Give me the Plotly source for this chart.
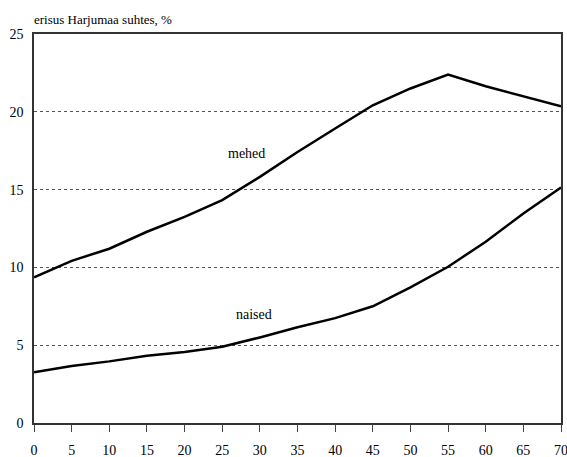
import plotly.graph_objects as go

ages = [0, 5, 10, 15, 20, 25, 30, 35, 40, 45, 50, 55, 60, 65, 70]
mehed = [9.36, 10.42, 11.2, 12.29, 13.25, 14.32, 15.82, 17.42, 18.93, 20.42, 21.5, 22.4, 21.64, 21.0, 20.36]
naised = [3.26, 3.66, 3.96, 4.32, 4.56, 4.9, 5.5, 6.15, 6.74, 7.5, 8.72, 10.04, 11.65, 13.47, 15.14]
y_ticks = [0, 5, 10, 15, 20, 25]
x_ticks = ages
title_text = "erisus Harjumaa suhtes, %"

font_family = "'Liberation Serif', 'Times New Roman', Times, 'DejaVu Serif', serif"
tick_font = dict(family=font_family, size=14, color="black")

fig = go.Figure()
fig.add_trace(go.Scatter(x=ages, y=mehed, mode="lines", line=dict(color="black", width=2.5), name="mehed",
                         showlegend=False, hoverinfo="skip"))
fig.add_trace(go.Scatter(x=ages, y=naised, mode="lines", line=dict(color="black", width=2.5), name="naised",
                         showlegend=False, hoverinfo="skip"))

fig.add_annotation(x=28.2, y=17.3, text="mehed", showarrow=False, font=dict(family=font_family, size=14, color="black"))
fig.add_annotation(x=29.2, y=7.0, text="naised", showarrow=False, font=dict(family=font_family, size=14, color="black"))

fig.update_layout(
    width=567, height=457,
    margin=dict(l=34, r=6, t=34, b=34, autoexpand=False),
    plot_bgcolor="white", paper_bgcolor="white",
    font=dict(family=font_family, size=14, color="black"),
    title=dict(text=title_text, font=dict(family=font_family, size=13, color="black"),
               xref="paper", x=0, xanchor="left", yref="container", y=1 - 19 / 457, yanchor="middle",
               automargin=False),
    xaxis=dict(range=[0, 70], tickvals=x_ticks, ticks="outside", ticklen=7, tickcolor="#444",
               showgrid=False, showline=True, linecolor="#333", linewidth=1.5, mirror=True,
               zeroline=False, automargin=False, ticklabeloverflow="allow", ticklabelstandoff=6,
               tickfont=tick_font),
    yaxis=dict(range=[0, 25], tickvals=y_ticks, ticks="", showgrid=True, gridcolor="#555",
               griddash="dot", gridwidth=1, showline=True, linecolor="#333", linewidth=1.5, mirror=True,
               zeroline=False, automargin=False, ticklabeloverflow="allow", ticklabelstandoff=6,
               tickfont=tick_font),
)

fig.write_html("out.html", config={"displayModeBar": False},
               post_script="document.body.style.margin='0';document.body.style.padding='0';")
